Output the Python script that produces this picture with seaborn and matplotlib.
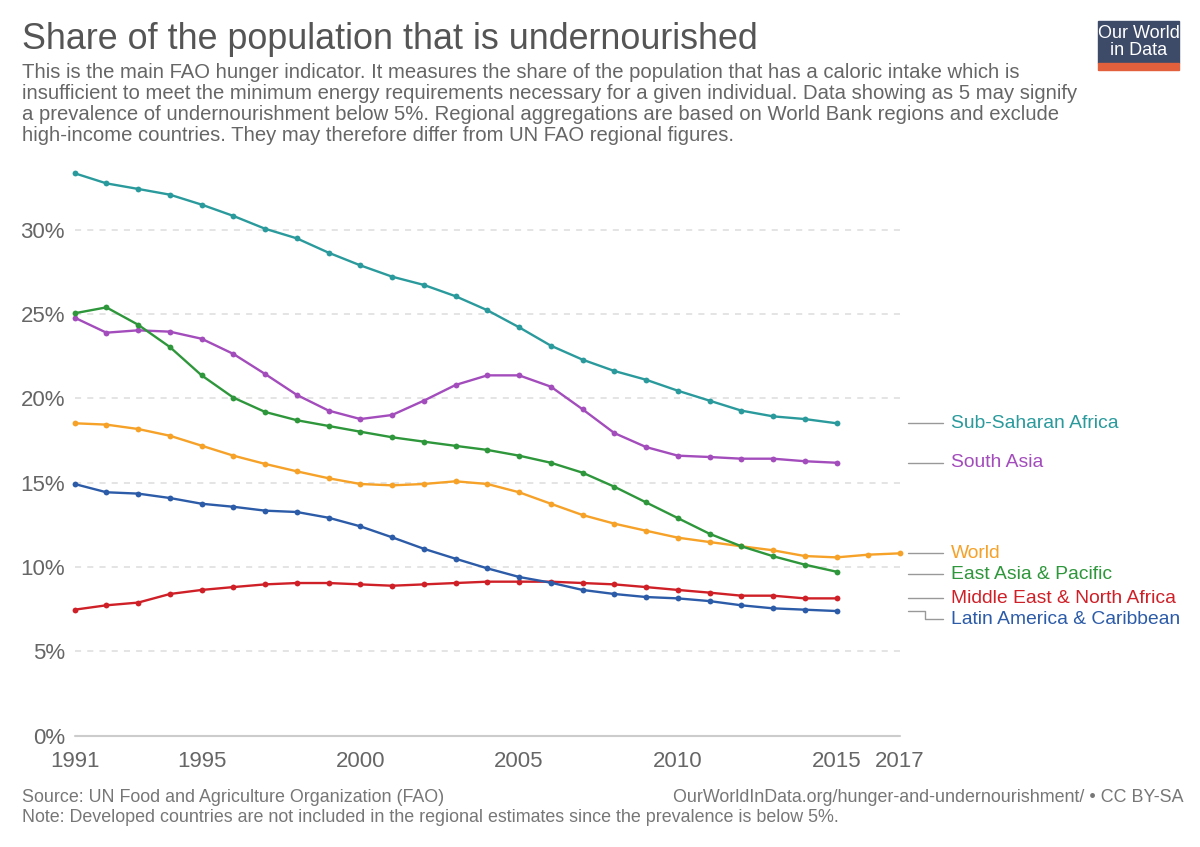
import pandas as pd
import matplotlib.pyplot as plt
import matplotlib.transforms as mtransforms
from matplotlib.patches import Rectangle
import seaborn as sns

years = list(range(1991, 2016))
years_world = list(range(1991, 2018))

ssa = [33.34, 32.74, 32.41, 32.07, 31.48, 30.81, 30.05, 29.48, 28.63, 27.88, 27.21, 26.72,
       26.05, 25.22, 24.21, 23.12, 22.29, 21.62, 21.10, 20.45, 19.86, 19.27, 18.93, 18.77, 18.52]
south_asia = [24.78, 23.89, 24.03, 23.95, 23.53, 22.63, 21.44, 20.20, 19.27, 18.77, 19.01, 19.86,
              20.79, 21.36, 21.36, 20.69, 19.35, 17.94, 17.11, 16.60, 16.52, 16.42, 16.42, 16.27, 16.18]
east_asia = [25.04, 25.39, 24.36, 23.04, 21.36, 20.04, 19.19, 18.70, 18.36, 18.02, 17.69, 17.43,
             17.18, 16.94, 16.60, 16.18, 15.59, 14.76, 13.83, 12.90, 11.97, 11.23, 10.64, 10.14, 9.72]
world = [18.52, 18.44, 18.18, 17.78, 17.19, 16.60, 16.11, 15.67, 15.26, 14.92, 14.84, 14.92,
         15.08, 14.92, 14.43, 13.75, 13.08, 12.57, 12.15, 11.74, 11.48, 11.23, 10.99, 10.65, 10.57,
         10.73, 10.81]
mena = [7.47, 7.73, 7.89, 8.40, 8.64, 8.81, 8.97, 9.05, 9.05, 8.97, 8.89, 8.97,
        9.05, 9.13, 9.13, 9.13, 9.05, 8.97, 8.81, 8.64, 8.48, 8.30, 8.30, 8.14, 8.14]
latam = [14.92, 14.43, 14.35, 14.09, 13.75, 13.57, 13.34, 13.26, 12.92, 12.41, 11.76, 11.08,
         10.49, 9.92, 9.41, 9.07, 8.64, 8.40, 8.22, 8.14, 7.98, 7.73, 7.55, 7.47, 7.39]

regions = ["Sub-Saharan Africa", "South Asia", "World", "East Asia & Pacific",
           "Middle East & North Africa", "Latin America & Caribbean"]
colors = {"Sub-Saharan Africa": "#2a9a9c", "South Asia": "#a34cbc", "World": "#f6a128",
          "East Asia & Pacific": "#2e963b", "Middle East & North Africa": "#cf2028",
          "Latin America & Caribbean": "#2c5ba8"}

series = {"Sub-Saharan Africa": (years, ssa), "South Asia": (years, south_asia),
          "World": (years_world, world), "East Asia & Pacific": (years, east_asia),
          "Middle East & North Africa": (years, mena), "Latin America & Caribbean": (years, latam)}

rows = []
for name in regions:
    xs, ys = series[name]
    for x, y in zip(xs, ys):
        rows.append([name, x, y])
df = pd.DataFrame(rows, columns=["Region", "Year", "Share"])

sns.set_theme(style="white")
plt.rcParams['font.family'] = ['Liberation Sans', 'DejaVu Sans']

fig = plt.figure(figsize=(12, 8.47), dpi=100)
ax = fig.add_axes([0.0622, 0.1314, 0.6878, 0.6772])

# grid first so lines sit on top
for v in [5, 10, 15, 20, 25, 30]:
    ax.axhline(v, color="#dddddd", lw=1.1, ls=(0, (4, 4)), zorder=0)
ax.axhline(0, color="#cccccc", lw=1.5, zorder=0)

sns.lineplot(data=df, x="Year", y="Share", hue="Region", palette=colors,
             marker="o", markersize=4.2, markeredgewidth=0, lw=1.7, legend=False, ax=ax)
for ln in ax.lines:
    ln.set_clip_on(False)

ax.set_xlim(1991, 2017)
ax.set_ylim(0, 34)
ax.set_xticks([1991, 1995, 2000, 2005, 2010, 2015, 2017])
ax.set_yticks([0, 5, 10, 15, 20, 25, 30])
ax.set_yticklabels([f"{v}%" for v in [0, 5, 10, 15, 20, 25, 30]])
ax.tick_params(axis="x", labelsize=16, colors="#666666", length=0, pad=11)
ax.tick_params(axis="y", labelsize=16, colors="#666666", length=0, pad=7)
ax.set_xlabel("")
ax.set_ylabel("")
for s in ax.spines.values():
    s.set_visible(False)

# end labels with a small repel
trans = mtransforms.blended_transform_factory(ax.transAxes, ax.transData)
ends = [(name, series[name][1][-1]) for name in regions]
ends.sort(key=lambda t: -t[1])
placed = []
gap = 1.25
for name, v in ends:
    y = v
    if placed and placed[-1] - y < gap:
        y = placed[-1] - gap
    placed.append(y)
    if abs(y - v) > 0.3:
        ax.plot([1.0097, 1.030, 1.030, 1.052], [v, v, y, y], color="#999999", lw=1,
                transform=trans, clip_on=False)
    else:
        ax.plot([1.0097, 1.052], [y, y], color="#999999", lw=1, transform=trans, clip_on=False)
    ax.text(1.0614, y, name, color=colors[name], fontsize=13.9, va="center", ha="left",
            transform=trans)

fig.text(0.018, 0.953, "Share of the population that is undernourished", fontsize=25.8,
         color="#555555", va="center")
subtitle = ("This is the main FAO hunger indicator. It measures the share of the population that has a caloric intake which is\n"
            "insufficient to meet the minimum energy requirements necessary for a given individual. Data showing as 5 may signify\n"
            "a prevalence of undernourishment below 5%. Regional aggregations are based on World Bank regions and exclude\n"
            "high-income countries. They may therefore differ from UN FAO regional figures.")
fig.text(0.018, 0.926, subtitle, fontsize=14.6, color="#666666", va="top", linespacing=1.13)

fig.text(0.018, 0.059, "Source: UN Food and Agriculture Organization (FAO)", fontsize=12.9,
         color="#777777", va="center")
fig.text(0.986, 0.059, "OurWorldInData.org/hunger-and-undernourishment/ • CC BY-SA", fontsize=12.9,
         color="#777777", va="center", ha="right")
fig.text(0.018, 0.035, "Note: Developed countries are not included in the regional estimates since the prevalence is below 5%.",
         fontsize=12.9, color="#777777", va="center")

# logo
fig.patches.append(Rectangle((0.915, 1 - 63 / 847), 0.0675, 42 / 847, transform=fig.transFigure,
                             color="#3d4a68", zorder=1))
fig.patches.append(Rectangle((0.915, 1 - 70 / 847), 0.0675, 7 / 847, transform=fig.transFigure,
                             color="#e2603c", zorder=1))
fig.text(0.9488, 1 - 42 / 847, "Our World\nin Data", color="white", fontsize=13, ha="center",
         va="center", linespacing=0.95, zorder=2)

plt.savefig("out.png", dpi=100)
